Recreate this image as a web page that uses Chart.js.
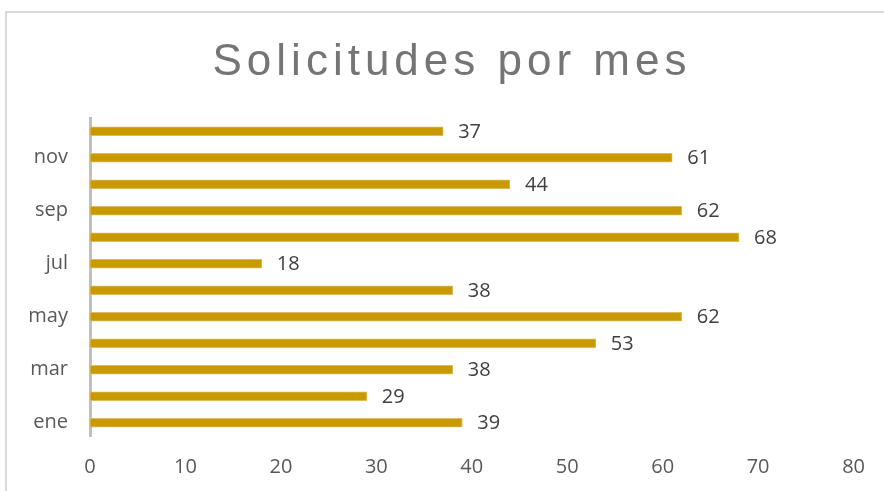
<!DOCTYPE html>
<html>
<head>
<meta charset="utf-8">
<script src="https://cdn.jsdelivr.net/npm/chart.js@4.4.1/dist/chart.umd.min.js"></script>
<style>
  html, body { margin: 0; padding: 0; background: #fff; overflow: hidden; }
  #frame {
    position: absolute; left: 5px; top: 11px; width: 900px; height: 500px;
    border: 2px solid #d9d9d9;
  }
  #wrap { position: absolute; left: 0; top: 0; width: 884px; height: 491px; }
</style>
</head>
<body>
<div id="frame"></div>
<div id="wrap"><canvas id="barChart" width="884" height="491"></canvas></div>
<script>
// --- Data ---
const months = ['ene', 'feb', 'mar', 'abr', 'may', 'jun', 'jul', 'ago', 'sep', 'oct', 'nov', 'dic'];
const requests = [39, 29, 38, 53, 62, 38, 18, 68, 62, 44, 61, 37];
const xTicks = [0, 10, 20, 30, 40, 50, 60, 70, 80];
const chartTitle = 'Solicitudes por mes';

const canvas = document.getElementById('barChart');

// Spaced-out title (Chart.js title has no letter spacing option)
const spacedTitle = {
  id: 'spacedTitle',
  afterDraw(chart) {
    const ctx = chart.ctx;
    ctx.save();
    ctx.font = '44px "Liberation Sans", Arial';
    ctx.letterSpacing = '5px';
    ctx.fillStyle = '#757575';
    ctx.textAlign = 'center';
    ctx.textBaseline = 'alphabetic';
    ctx.fillText(chartTitle, 452, 75);
    ctx.restore();
  }
};

// Draw the value at the end of each bar
const valueLabels = {
  id: 'valueLabels',
  afterDatasetsDraw(chart) {
    const ctx = chart.ctx;
    const meta = chart.getDatasetMeta(0);
    ctx.save();
    ctx.font = '20px "Open Sans"';
    ctx.fillStyle = '#404040';
    ctx.textAlign = 'left';
    ctx.textBaseline = 'middle';
    meta.data.forEach((bar, i) => {
      ctx.fillText(String(requests[i]), bar.x + 15, bar.y + 1);
    });
    ctx.restore();
  }
};

new Chart(canvas, {
  type: 'bar',
  data: {
    labels: months,
    datasets: [{
      label: 'Solicitudes',
      data: requests,
      backgroundColor: '#C89A00',
      borderColor: '#DDBB5E',
      borderWidth: 1,
      borderSkipped: false,
      barThickness: 9
    }]
  },
  options: {
    indexAxis: 'y',
    responsive: false,
    animation: false,
    layout: { padding: { left: 0, right: 30, top: 118, bottom: 14 } },
    plugins: {
      legend: { display: false },
      tooltip: { enabled: false },
      title: { display: false }
    },
    scales: {
      x: {
        min: 0,
        max: 80,
        afterBuildTicks(axis) { axis.ticks = xTicks.map(v => ({ value: v })); },
        afterFit(axis) { axis.height = 41; },
        grid: { display: false, drawTicks: false },
        border: { display: false },
        ticks: {
          color: '#595959',
          padding: 19,
          font: { family: '"Open Sans"', size: 20 }
        }
      },
      y: {
        reverse: true,
        afterFit(axis) { axis.width = 90; },
        grid: { display: false, drawTicks: false },
        border: { display: true, color: '#bfbfbf', width: 3 },
        ticks: {
          autoSkip: false,
          color: '#595959',
          padding: 22,
          font: { family: '"Open Sans"', size: 20 },
          callback: (v, i) => (i % 2 === 0 ? months[i] : '')
        }
      }
    }
  },
  plugins: [valueLabels, spacedTitle]
});
</script>
</body>
</html>
